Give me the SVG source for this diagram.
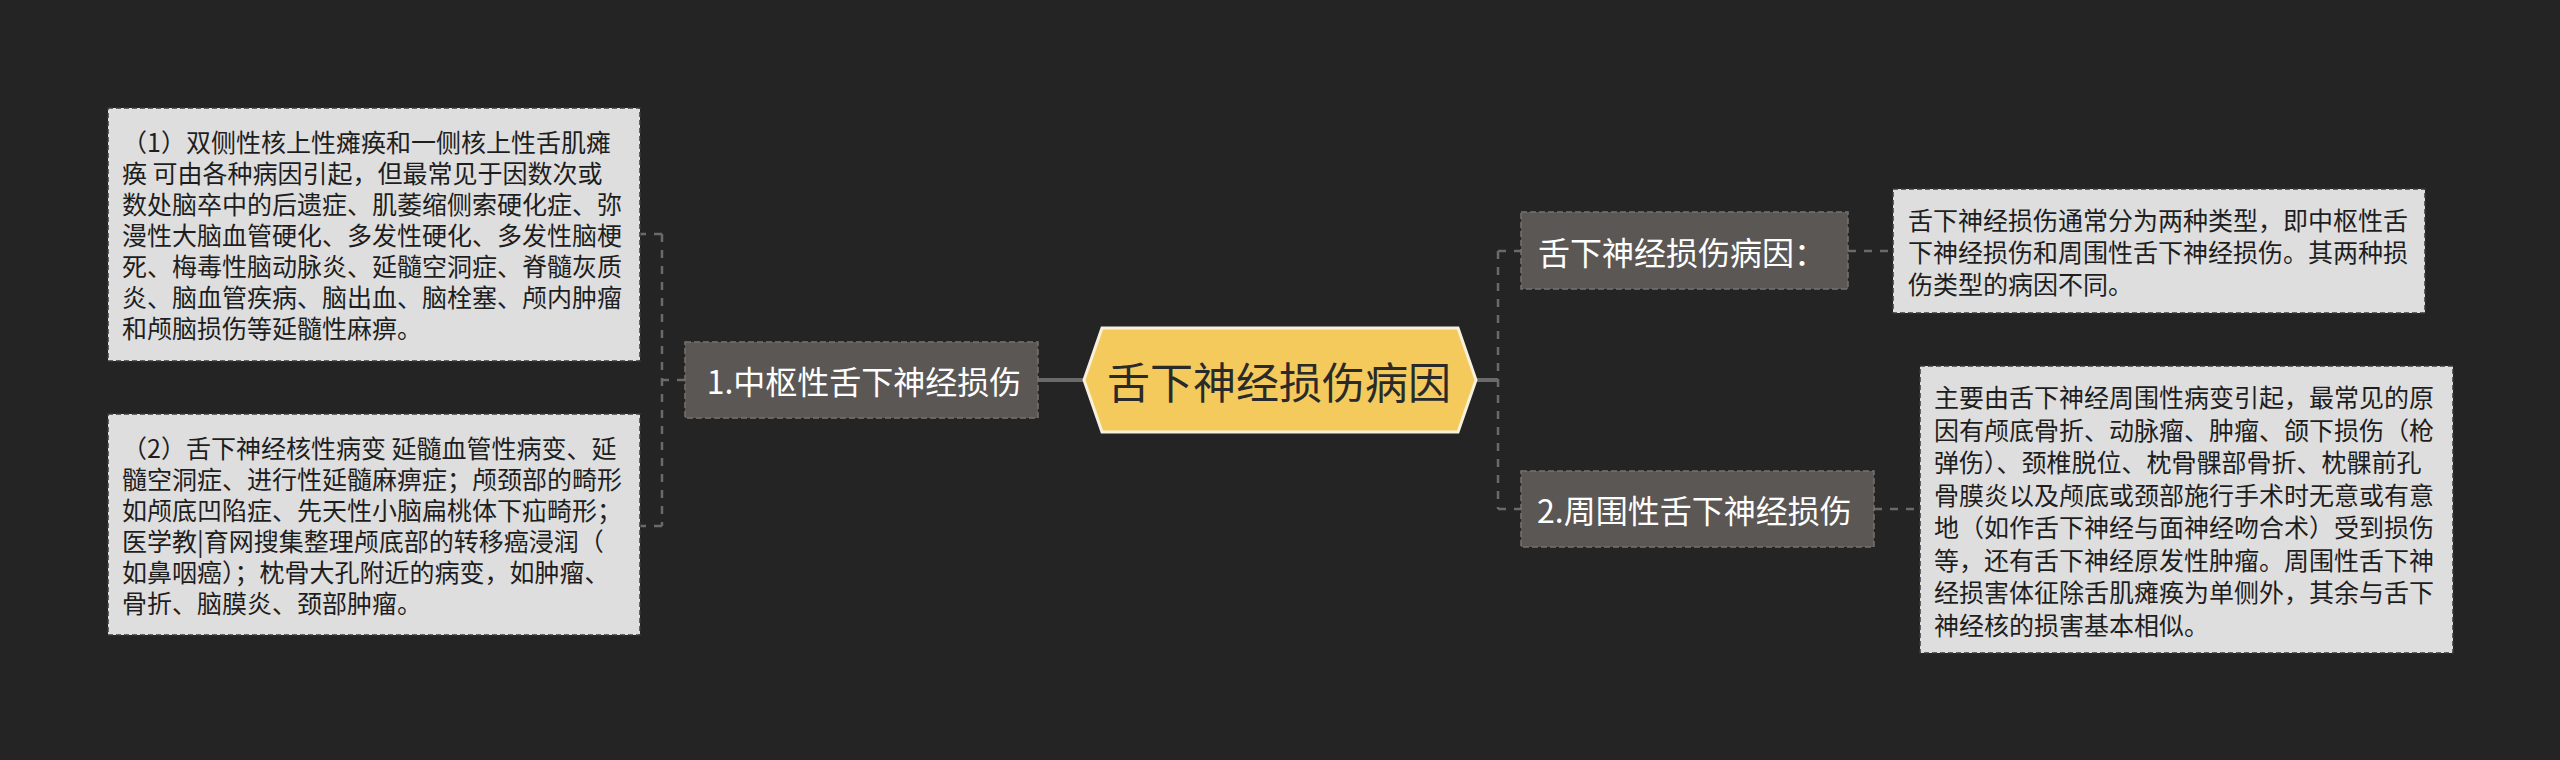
<svg xmlns="http://www.w3.org/2000/svg" width="2560" height="760" viewBox="0 0 2560 760">
<style>
.bg{fill:#242424}
.conn{fill:none;stroke:#6a6a6a;stroke-width:2.5;stroke-dasharray:8 8}
.solid{fill:none;stroke:#6a6a6a;stroke-width:4}
.mid rect{fill:#5b5755;stroke:#76716e;stroke-width:1.5;stroke-dasharray:6 3}
.mid text{fill:#ffffff;font-family:"Noto Sans CJK SC","Noto Sans",sans-serif;font-size:32px;dominant-baseline:central}
.leaf rect{fill:#dedede;stroke:#3a3a3a;stroke-width:1.5;stroke-dasharray:5 3}
.leaf text{fill:#1e1e1e;font-family:"Noto Sans CJK SC","Noto Sans",sans-serif;font-size:25px;dominant-baseline:central}
</style>
<rect class="bg" x="0" y="0" width="2560" height="760"/>
<g id="connectors">
<path class="solid" d="M1038,380 H1084"/>
<path class="solid" d="M1476,380 H1498"/>
<path class="conn" d="M685,380 H662"/>
<path class="conn" d="M662,234 V526"/>
<path class="conn" d="M662,234 H640"/>
<path class="conn" d="M662,526 H640"/>
<path class="conn" d="M1498,251 V509"/>
<path class="conn" d="M1498,251 H1521"/>
<path class="conn" d="M1498,509 H1521"/>
<path class="conn" d="M1848,251 H1893"/>
<path class="conn" d="M1874,509 H1920"/>
</g>
<g id="root">
<path d="M1084,380 L1102,328 L1458,328 L1476,380 L1458,432 L1102,432 Z" fill="#f5ca5c" stroke="#f6f0dc" stroke-width="3"/>
<text x="1107" y="380" font-family="'Noto Sans CJK SC','Noto Sans',sans-serif" font-size="43" fill="#2a2a2a" dominant-baseline="central">舌下神经损伤病因</text>
</g>
<g id="n-central" class="mid">
<rect x="685" y="342" width="353" height="76"/>
<text x="864" y="380" text-anchor="middle">1.中枢性舌下神经损伤</text>
</g>
<g id="n-cause" class="mid">
<rect x="1521" y="212" width="327" height="77"/>
<text x="1538" y="251">舌下神经损伤病因：</text>
</g>
<g id="n-peripheral" class="mid">
<rect x="1521" y="471" width="353" height="76"/>
<text x="1537" y="509">2.周围性舌下神经损伤</text>
</g>
<g id="leaf-l1" class="leaf">
<rect x="108" y="108" width="532" height="253"/>
<text x="122" y="141">（1）双侧性核上性瘫痪和一侧核上性舌肌瘫</text>
<text x="122" y="172">痪 可由各种病因引起，但最常见于因数次或</text>
<text x="122" y="203">数处脑卒中的后遗症、肌萎缩侧索硬化症、弥</text>
<text x="122" y="234">漫性大脑血管硬化、多发性硬化、多发性脑梗</text>
<text x="122" y="265">死、梅毒性脑动脉炎、延髓空洞症、脊髓灰质</text>
<text x="122" y="296">炎、脑血管疾病、脑出血、脑栓塞、颅内肿瘤</text>
<text x="122" y="327">和颅脑损伤等延髓性麻痹。</text>
</g>
<g id="leaf-l2" class="leaf">
<rect x="108" y="414" width="532" height="221"/>
<text x="122" y="447">（2）舌下神经核性病变 延髓血管性病变、延</text>
<text x="122" y="478">髓空洞症、进行性延髓麻痹症；颅颈部的畸形</text>
<text x="122" y="509">如颅底凹陷症、先天性小脑扁桃体下疝畸形；</text>
<text x="122" y="540">医学教|育网搜集整理颅底部的转移癌浸润（</text>
<text x="122" y="571">如鼻咽癌）；枕骨大孔附近的病变，如肿瘤、</text>
<text x="122" y="602">骨折、脑膜炎、颈部肿瘤。</text>
</g>
<g id="leaf-r1" class="leaf">
<rect x="1893" y="189" width="532" height="124"/>
<text x="1908" y="219">舌下神经损伤通常分为两种类型，即中枢性舌</text>
<text x="1908" y="251">下神经损伤和周围性舌下神经损伤。其两种损</text>
<text x="1908" y="283">伤类型的病因不同。</text>
</g>
<g id="leaf-r2" class="leaf">
<rect x="1920" y="366" width="533" height="287"/>
<text x="1934" y="396">主要由舌下神经周围性病变引起，最常见的原</text>
<text x="1934" y="428.5">因有颅底骨折、动脉瘤、肿瘤、颌下损伤（枪</text>
<text x="1934" y="461">弹伤）、颈椎脱位、枕骨髁部骨折、枕髁前孔</text>
<text x="1934" y="493.5">骨膜炎以及颅底或颈部施行手术时无意或有意</text>
<text x="1934" y="526">地（如作舌下神经与面神经吻合术）受到损伤</text>
<text x="1934" y="558.5">等，还有舌下神经原发性肿瘤。周围性舌下神</text>
<text x="1934" y="591">经损害体征除舌肌瘫痪为单侧外，其余与舌下</text>
<text x="1934" y="623.5">神经核的损害基本相似。</text>
</g>
</svg>
